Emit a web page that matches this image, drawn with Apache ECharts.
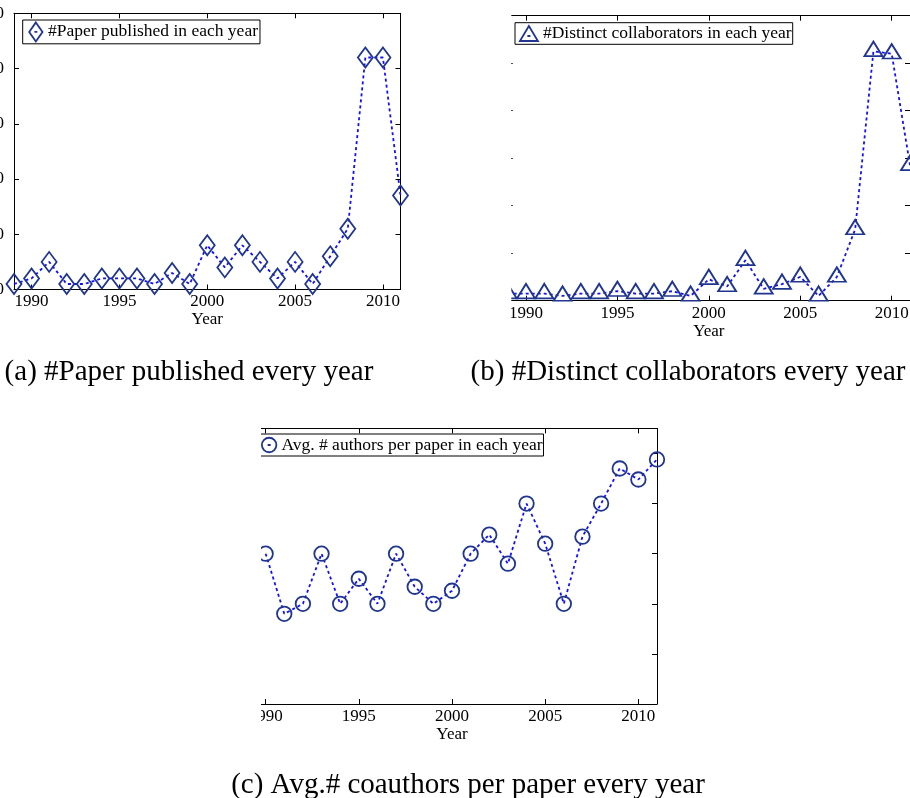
<!DOCTYPE html>
<html><head><meta charset="utf-8">
<script src="https://cdn.jsdelivr.net/npm/echarts@6/dist/echarts.min.js"></script>
<style>html,body{margin:0;padding:0;background:#fff}#c{width:910px;height:798px}</style>
</head><body><div id="c"></div>
<script>
// ---------- data ----------
const years = [1989,1990,1991,1992,1993,1994,1995,1996,1997,1998,1999,2000,2001,2002,2003,2004,2005,2006,2007,2008,2009,2010,2011];
const papersPerYear = [1,2,5,1,1,2,2,2,1,3,1,8,4,8,5,2,5,1,6,11,42,42,17];
const distinctCollaborators = [3,3,3,2,3,3,4,3,3,4,2,9,6,17,5,7,10,2,10,30,105,104,57];
const avgYears = [1990,1991,1992,1993,1994,1995,1996,1997,1998,1999,2000,2001,2002,2003,2004,2005,2006,2007,2008,2009,2010,2011];
const avgAuthors = [2.5,1.9,2.0,2.5,2.0,2.25,2.0,2.5,2.17,2.0,2.13,2.5,2.69,2.4,3.0,2.6,2.0,2.67,3.0,3.35,3.24,3.44];
const xTickYears = [1990,1995,2000,2005,2010];
const legendNames = ['#Paper published in each year','#Distinct collaborators in each year','Avg. # authors per paper in each year'];
const captions = ['(a) #Paper published every year','(b) #Distinct collaborators every year','(c) Avg.# coauthors per paper every year'];
const xAxisTitle = 'Year';

// ---------- style ----------
const FONT = '"Liberation Serif", "Times New Roman", serif';
const LINE = '#1010ff';
const MARK = '#1f3590';
const txt = {fontFamily: FONT, fontSize: 17, color: '#000'};
const plain = v => String(v);

const grids = [
  {left: 14, right: 509.5, top: 13.3, bottom: 508.5, outerBoundsMode: 'none', containLabel: false},
  {left: 507.7, right: 0, top: 15.7, bottom: 497.3, outerBoundsMode: 'none', containLabel: false},
  {left: 247, right: 253, top: 428.4, bottom: 94, outerBoundsMode: 'none', containLabel: false}
];
const yRanges = [
  {min: 0, max: 50, interval: 10, labels: true},
  {min: 0, max: 120, interval: 20, labels: false},
  {min: 1, max: 3.75, interval: 0.5, labels: false}
];

const xAxis = [], yAxis = [];
grids.forEach((g, i) => {
  xAxis.push({
    type: 'value', gridIndex: i, min: 1989, max: 2011, position: 'bottom',
    axisLine: {show: true, onZero: false, lineStyle: {color: '#000', width: 1}},
    axisTick: {show: true, inside: true, length: 5, customValues: xTickYears, lineStyle: {color: '#000'}},
    axisLabel: {show: true, customValues: xTickYears, margin: 4, formatter: plain, hideOverlap: false, ...txt},
    splitLine: {show: false},
    name: xAxisTitle, nameLocation: 'middle', nameGap: 17.5, nameTextStyle: {...txt}
  });
  xAxis.push({
    type: 'value', gridIndex: i, min: 1989, max: 2011, position: 'top',
    axisLine: {show: true, onZero: false, lineStyle: {color: '#000', width: 1}},
    axisTick: {show: true, inside: true, length: 5, customValues: xTickYears, lineStyle: {color: '#000'}},
    axisLabel: {show: false}, splitLine: {show: false}
  });
  const r = yRanges[i];
  yAxis.push({
    type: 'value', gridIndex: i, min: r.min, max: r.max, interval: r.interval, position: 'left',
    axisLine: {show: true, onZero: false, lineStyle: {color: '#000', width: 1}},
    axisTick: {show: true, inside: true, length: 5, lineStyle: {color: '#000'}},
    axisLabel: {show: r.labels, margin: 10, showMaxLabel: true, formatter: plain, ...txt},
    splitLine: {show: false}
  });
  yAxis.push({
    type: 'value', gridIndex: i, min: r.min, max: r.max, interval: r.interval, position: 'right',
    axisLine: {show: true, onZero: false, lineStyle: {color: '#000', width: 1}},
    axisTick: {show: true, inside: true, length: 5, lineStyle: {color: '#000'}},
    axisLabel: {show: false}, splitLine: {show: false}
  });
});

function mkSeries(i, name, xs, ys, symbol, size, offset) {
  return {
    type: 'line', name: name, xAxisIndex: i * 2, yAxisIndex: i * 2,
    data: xs.map((x, k) => [x, ys[k]]),
    symbol: symbol, symbolSize: size, symbolOffset: offset || [0, 0],
    showSymbol: true, clip: false, animation: false,
    lineStyle: {color: LINE, width: 1.8, type: [3, 3]},
    itemStyle: {color: 'rgba(255,255,255,0)', borderColor: MARK, borderWidth: 1.8},
    emphasis: {disabled: true}
  };
}

const series = [
  mkSeries(0, legendNames[0], years, papersPerYear, 'diamond', [15, 20]),
  mkSeries(1, legendNames[1], years, distinctCollaborators, 'triangle', [18, 14.5], [0, -2.4]),
  mkSeries(2, legendNames[2], avgYears, avgAuthors, 'circle', 14.5)
];

const legendBase = {
  orient: 'horizontal', backgroundColor: '#fff', borderColor: '#000', borderWidth: 1, borderRadius: 0,
  selectedMode: false, textStyle: {fontFamily: FONT, fontSize: 17.5, color: '#000', lineHeight: 19},
  itemStyle: {color: 'rgba(255,255,255,0)', borderColor: MARK, borderWidth: 1.8}
};
const legend = [
  {...legendBase, data: [legendNames[0]], left: 22.7, top: 20, padding: [1.5, 2, 1.5, 5.6],
   itemWidth: 14.4, itemHeight: 19, icon: 'path://M7,0 L14,10 L7,20 L0,10 Z M5.5,10 L8.5,10'},
  {...legendBase, data: [legendNames[1]], left: 515, top: 22.7, padding: [1.3, 1, 1.3, 4],
   itemWidth: 18, itemHeight: 15, icon: 'path://M9,0 L18,15 L0,15 Z M7.5,10 L10.5,10'},
  {...legendBase, data: [legendNames[2]], left: 256, top: 434, padding: [1.5, 1, 1.5, 5],
   itemWidth: 14.5, itemHeight: 14.5, icon: 'path://M0,7 A7,7 0 1,1 14,7 A7,7 0 1,1 0,7 Z M5.5,7 L8.5,7'}
];

const capStyle = {fontFamily: FONT, fontSize: 29, fill: '#000', align: 'center', verticalAlign: 'middle'};
const graphic = [
  {type: 'rect', z: 100, shape: {x: 412, y: 0, width: 99.3, height: 345}, style: {fill: '#fff'}},
  {type: 'rect', z: 100, shape: {x: 0, y: 400, width: 261, height: 360}, style: {fill: '#fff'}},
  {type: 'text', z: 101, x: 189, y: 372, style: {...capStyle, text: captions[0]}},
  {type: 'text', z: 101, x: 688, y: 372, style: {...capStyle, text: captions[1]}},
  {type: 'text', z: 101, x: 468, y: 785, style: {...capStyle, text: captions[2]}}
];

const chart = echarts.init(document.getElementById('c'), null, {renderer: 'canvas'});
chart.setOption({
  animation: false, backgroundColor: '#fff',
  grid: grids, xAxis: xAxis, yAxis: yAxis, series: series, legend: legend, graphic: graphic
});
</script></body></html>
